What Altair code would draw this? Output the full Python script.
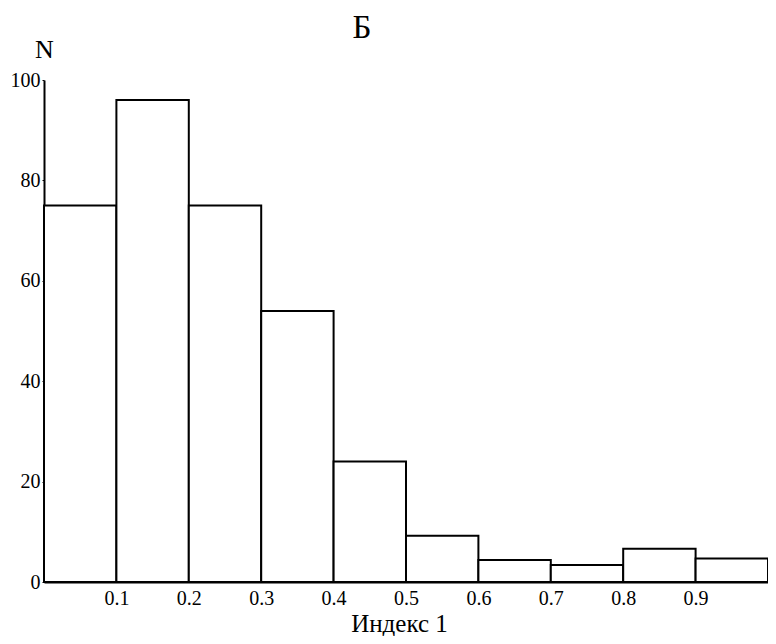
import altair as alt
import pandas as pd

bin_start = [0.0, 0.1, 0.2, 0.3, 0.4, 0.5, 0.6, 0.7, 0.8, 0.9]
bin_end = [0.1, 0.2, 0.3, 0.4, 0.5, 0.6, 0.7, 0.8, 0.9, 1.0]
counts = [75, 96, 75, 54, 24, 9.2, 4.4, 3.4, 6.6, 4.7]
x_ticks = [0.1, 0.2, 0.3, 0.4, 0.5, 0.6, 0.7, 0.8, 0.9]
y_ticks = [0, 20, 40, 60, 80, 100]
panel_title = ["Б"]

df = pd.DataFrame({"start": bin_start, "end": bin_end, "n": counts})
tdf = pd.DataFrame({"t": panel_title})

FONT = "Liberation Serif"

bars = alt.Chart(df).mark_bar(
    fill="white", stroke="black", strokeWidth=2
).encode(
    x=alt.X("start:Q",
            scale=alt.Scale(domain=[0, 1], nice=False, zero=False),
            axis=alt.Axis(values=x_ticks, format=".1f", ticks=False, grid=False,
                          domainColor="black", domainWidth=2,
                          labelFont=FONT, labelFontSize=20, labelColor="black",
                          labelPadding=6, labelBaseline="top",
                          title="Индекс 1", titleFont=FONT, titleFontSize=25,
                          titleFontWeight="normal", titleColor="black",
                          titleAnchor="start", titleAlign="center",
                          titleBaseline="alphabetic",
                          titleX=355, titleY=49)),
    x2="end:Q",
    y=alt.Y("n:Q",
            scale=alt.Scale(domain=[0, 100], nice=False),
            axis=alt.Axis(values=y_ticks, grid=False, tickSize=2, tickColor="black",
                          domainColor="black", domainWidth=2,
                          labelFont=FONT, labelFontSize=20, labelColor="black",
                          labelPadding=2,
                          title="N", titleFont=FONT, titleFontSize=26,
                          titleFontWeight="normal", titleColor="black",
                          titleAngle=0, titleAlign="center",
                          titleBaseline="alphabetic",
                          titleX=0, titleY=-23)),
    y2=alt.datum(0),
)

title_text = alt.Chart(tdf).mark_text(
    font=FONT, fontSize=33, color="black", align="center", baseline="alphabetic"
).encode(
    x=alt.value(318), y=alt.value(-42), text="t:N"
)

chart = alt.layer(bars, title_text).properties(
    width=724, height=502,
    autosize=alt.AutoSizeParams(type="none"),
    padding={"left": 36, "top": 72, "right": 0, "bottom": 54},
).configure_view(stroke=None)

chart.save("out.html", embed_options={"renderer": "svg", "actions": False})
